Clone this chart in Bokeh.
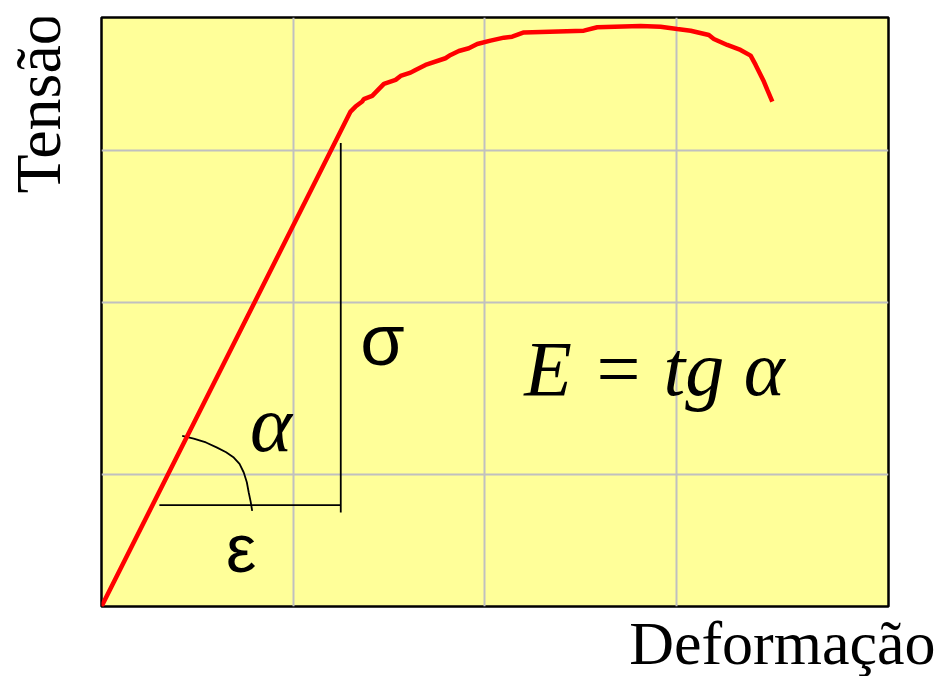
from bokeh.plotting import figure
from bokeh.models import Range1d, FixedTicker, Label, Title
from bokeh.layouts import row
from bokeh.embed import file_html
from bokeh.resources import INLINE

# Stress-strain curve (x: deformação, y: tensão as % of frame height)
strain = [0.0, 1.299, 1.325, 1.360, 1.368, 1.412, 1.473, 1.534, 1.560, 1.612, 1.638,
          1.690, 1.794, 1.821, 1.864, 1.916, 1.960, 2.029, 2.099, 2.142, 2.203,
          2.516, 2.586, 2.812, 2.916, 3.003, 3.073, 3.168, 3.194, 3.264, 3.333,
          3.386, 3.412, 3.438, 3.455, 3.473, 3.499]
stress = [0.0, 84.03, 84.88, 85.73, 86.14, 86.69, 88.73, 89.41, 90.08, 90.64, 91.10,
          91.95, 93.08, 93.64, 94.32, 94.78, 95.51, 96.07, 96.58, 96.75, 97.46,
          97.76, 98.34, 98.56, 98.44, 98.05, 97.76, 97.03, 96.36, 95.34, 94.49,
          93.53, 91.95, 90.25, 89.12, 87.71, 85.73]

# Grid positions
x_grid = [1, 2, 3]
y_grid = [22.46, 51.56, 77.37]

# Construction lines (epsilon leg, sigma leg) and the angle arc
eps_x = [0.302, 1.248]
eps_y = [17.2, 17.2]
sig_x = [1.248, 1.248]
sig_y = [15.97, 78.68]
arc_x = [0.421, 0.481, 0.545, 0.603, 0.650, 0.690, 0.720, 0.742, 0.758, 0.768, 0.778, 0.786]
arc_y = [28.95, 28.51, 27.85, 26.98, 26.20, 25.29, 24.20, 22.75, 21.10, 19.36, 17.80, 16.24]

serif = "Liberation Serif"
sans = "Liberation Sans"

# Narrow side panel holding the vertical axis title
side = figure(width=95, height=676, output_backend="svg", toolbar_location=None,
              x_range=Range1d(0, 95), y_range=Range1d(0, 676),
              min_border_left=0, min_border_right=0, min_border_top=0, min_border_bottom=0)
side.axis.visible = False
side.grid.visible = False
side.outline_line_color = None
side.background_fill_color = "white"
side.add_layout(Label(x=38, y=681, text="Tensão", text_font=serif, angle=1.5708,
                      text_font_size="64px", text_align="right", text_baseline="alphabetic",
                      text_color="black"))

p = figure(width=855, height=676, output_backend="svg", toolbar_location=None,
           x_range=Range1d(0, 4.105), y_range=Range1d(0, 100),
           min_border_left=6, min_border_right=62, min_border_top=17, min_border_bottom=69)
p.xaxis.visible = False
p.yaxis.visible = False
p.xgrid.ticker = FixedTicker(ticks=x_grid)
p.ygrid.ticker = FixedTicker(ticks=y_grid)
p.xgrid.grid_line_color = "#C0C0C0"
p.ygrid.grid_line_color = "#C0C0C0"
p.xgrid.grid_line_width = 2
p.ygrid.grid_line_width = 2
p.background_fill_color = "#FFFF99"
p.border_fill_color = "white"
p.outline_line_color = "black"
p.outline_line_width = 2.5
p.outline_line_alpha = 1

p.line(eps_x, eps_y, line_color="black", line_width=1.8)
p.line(sig_x, sig_y, line_color="black", line_width=1.8)
p.line(arc_x, arc_y, line_color="black", line_width=1.8)
p.line(strain, stress, line_color="#FF0000", line_width=4.5)

p.add_layout(Label(x=1.350, y=45.33, text="σ", text_font=sans, text_font_size="72px",
                   text_align="left", text_baseline="alphabetic", text_color="black"))
p.add_layout(Label(x=0.650, y=9.90, text="ε", text_font=sans, text_font_size="68px",
                   text_align="left", text_baseline="alphabetic", text_color="black"))
p.add_layout(Label(x=0.775, y=30.90, text="α", text_font=serif, text_font_style="italic",
                   text_font_size="80px", text_align="left", text_baseline="alphabetic",
                   text_color="black"))
p.add_layout(Label(x=2.205, y=40.36, text="E = tg α", text_font=serif, text_font_style="italic",
                   text_font_size="78px", text_align="left", text_baseline="alphabetic",
                   text_color="black"))

p.add_layout(Title(text="Deformação", text_font=serif, text_font_size="62px",
                   text_font_style="normal", align="right", offset=-47, standoff=0,
                   text_color="black"), "below")

layout = row(side, p)
open("out.html", "w").write(file_html(layout, INLINE))
